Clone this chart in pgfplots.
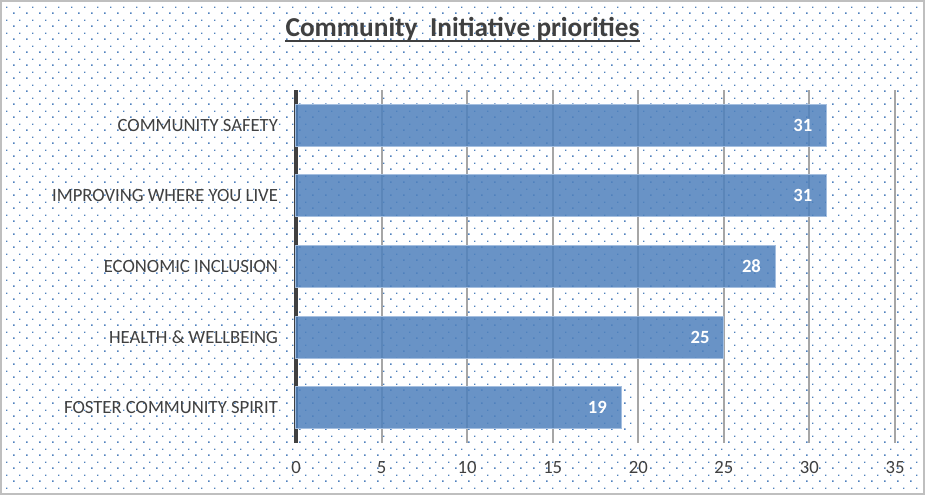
\documentclass[border=0pt]{standalone}
\usepackage{pgfplots}
\pgfplotsset{compat=1.18}
\usepackage{fontspec}
\setmainfont{Carlito}
\usetikzlibrary{patterns.meta}

\definecolor{officeblue}{RGB}{79,129,189}
\definecolor{txtgray}{RGB}{64,64,64}
\definecolor{gridgray}{RGB}{166,166,166}
\definecolor{framegray}{RGB}{191,191,191}
\definecolor{barline}{RGB}{165,191,224}

% dotted chart background, tile of 12.5px (1px = 0.75pt)
\tikzdeclarepattern{
  name=officedots,
  type=uncolored,
  bounding box={(0,0) and (9.375pt,9.375pt)},
  tile size={(9.375pt,9.375pt)},
  code={
    \fill (0,0) rectangle (1.3pt,1.3pt);
    \fill (4.6875pt,4.6875pt) rectangle (5.8pt,5.8pt);
  }
}

\begin{document}
\begin{tikzpicture}[x=0.75pt,y=0.75pt]
% axis box sits with its lower left corner at (0,0); the chart area reaches 296px left, 52px down
\useasboundingbox (-296,-52) rectangle (629,443);
\fill[white] (-296,-52) rectangle (629,443);
\fill[pattern=officedots, pattern color=officeblue] (-296,-52) rectangle (629,443);
\draw[framegray, line width=1.5pt] (-295,-51) rectangle (628,442);

% title
\node[anchor=base, text=txtgray, font=\fontsize{20.5}{24}\selectfont\bfseries, inner sep=0pt] (t) at (166.5,406) {Community\ \ Initiative priorities};
\draw[txtgray, line width=2pt] ([yshift=-3pt]t.base west) -- ([yshift=-3pt]t.base east);

\begin{axis}[
  scale only axis,
  width=449.25pt, height=264.75pt,
  xmin=0, xmax=35, ymin=0.5, ymax=5.5,
  xtick={5,10,...,35},
  ytick={1,2,3,4,5},
  yticklabels={FOSTER COMMUNITY SPIRIT, HEALTH \& WELLBEING, ECONOMIC INCLUSION, IMPROVING WHERE YOU LIVE, COMMUNITY SAFETY},
  axis line style={draw=none},
  major tick length=0pt,
  xmajorgrids,
  major grid style={gridgray, line width=1.4pt},
  extra x ticks={0},
  extra x tick labels={0},
  extra x tick style={major grid style={txtgray, line width=2.6pt}},
  tick label style={text=txtgray, font=\fontsize{14}{16}\selectfont},
  /pgf/number format/assume math mode=true,
  xticklabel style={yshift=-10pt},
  yticklabel style={xshift=-10pt},
  xbar, bar width=31.5pt,
  nodes near coords,
  point meta=x,
  every node near coord/.append style={anchor=east, xshift=-7pt, text=white, font=\fontsize{14}{16}\selectfont\bfseries},
  clip=false,
]
\addplot[fill=officeblue, fill opacity=0.85, draw=barline, line width=0.75pt, text opacity=1] coordinates {
  (19,1) (25,2) (28,3) (31,4) (31,5)
};
\end{axis}
\end{tikzpicture}
\end{document}
